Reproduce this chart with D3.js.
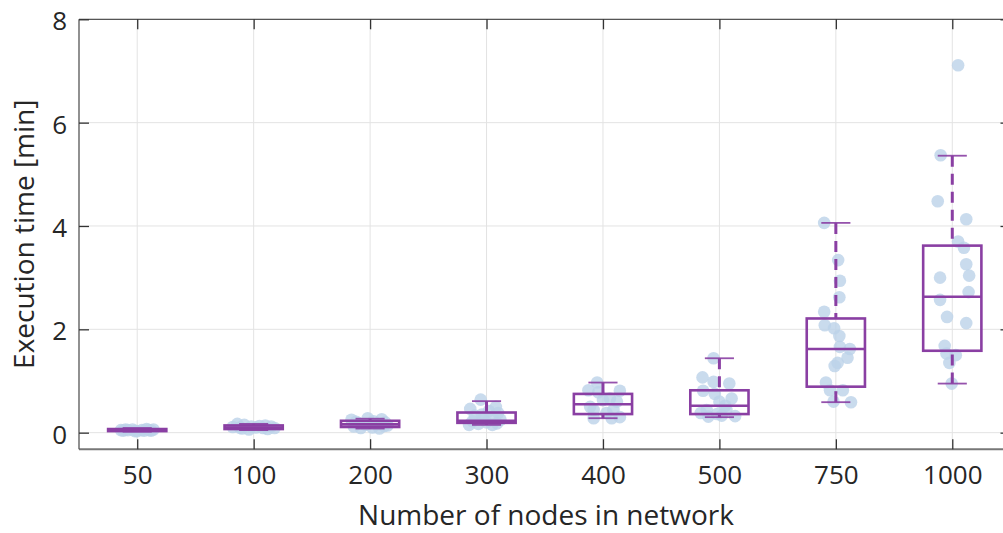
<!DOCTYPE html>
<html>
<head>
<meta charset="utf-8">
<script src="https://cdn.jsdelivr.net/npm/d3@7"></script>
<style>
  html, body { margin: 0; padding: 0; background: #fff; overflow: hidden; }
  svg { display: block; font-family: "Open Sans", "Noto Sans", sans-serif; }
</style>
</head>
<body>
<svg id="chart" width="1003" height="533"></svg>
<script>
// ---------------- data ----------------
const categories = ["50", "100", "200", "300", "400", "500", "750", "1000"];
const yTicks = [0, 2, 4, 6, 8];

// box statistics (minutes)
const whiskerLow  = [0.02, 0.05, 0.08, 0.15, 0.28, 0.30, 0.59, 0.95];
const q1          = [0.03, 0.07, 0.11, 0.19, 0.36, 0.36, 0.89, 1.585];
const medians     = [0.05, 0.10, 0.16, 0.23, 0.55, 0.52, 1.62, 2.63];
const q3          = [0.07, 0.14, 0.23, 0.39, 0.75, 0.82, 2.21, 3.62];
const whiskerHigh = [0.09, 0.17, 0.27, 0.61, 0.97, 1.44, 4.06, 5.36];

// individual runs (minutes) and their horizontal jitter (in category units)
const runs50   = [0.04, 0.05, 0.06, 0.03, 0.05, 0.07, 0.04, 0.06, 0.05, 0.03, 0.04, 0.06, 0.05];
const jit50    = [-0.12, -0.08, -0.04, 0.00, 0.04, 0.08, 0.12, -0.10, 0.10, -0.02, 0.06, 0.14, -0.14];
const runs100  = [0.17, 0.15, 0.14, 0.12, 0.11, 0.10, 0.09, 0.08, 0.07, 0.06, 0.12, 0.09, 0.10, 0.13];
const jit100   = [-0.14, -0.08, 0.10, 0.15, -0.18, 0.02, 0.08, -0.10, 0.12, -0.04, -0.02, 0.18, -0.12, 0.05];
const runs200  = [0.28, 0.26, 0.25, 0.22, 0.20, 0.18, 0.16, 0.15, 0.13, 0.12, 0.10, 0.09, 0.08, 0.21, 0.14];
const jit200   = [-0.02, 0.10, -0.16, 0.03, 0.13, -0.10, 0.06, -0.04, 0.12, -0.14, 0.02, -0.08, 0.08, -0.12, 0.15];
const runs300  = [0.64, 0.50, 0.46, 0.42, 0.38, 0.33, 0.30, 0.27, 0.25, 0.22, 0.20, 0.18, 0.17, 0.15, 0.15, 0.35];
const jit300   = [-0.05, 0.08, -0.14, 0.02, 0.10, -0.10, 0.05, -0.03, 0.12, -0.12, 0.00, 0.09, -0.07, -0.15, 0.05, -0.04];
const runs400  = [0.97, 0.82, 0.81, 0.78, 0.66, 0.63, 0.60, 0.50, 0.44, 0.44, 0.38, 0.28, 0.28, 0.30];
const jit400   = [-0.05, -0.125, 0.145, -0.04, 0.06, 0.00, 0.12, -0.11, -0.08, 0.09, 0.03, -0.08, 0.075, 0.145];
const runs500  = [1.44, 1.07, 0.985, 0.95, 0.81, 0.75, 0.66, 0.60, 0.52, 0.44, 0.44, 0.36, 0.32, 0.31, 0.33, 0.38];
const jit500   = [-0.05, -0.145, -0.05, 0.085, -0.14, -0.04, 0.105, 0.00, 0.05, -0.11, 0.06, -0.02, 0.135, -0.095, 0.02, -0.16];
const runs750  = [4.06, 3.34, 2.94, 2.62, 2.34, 2.08, 2.02, 1.87, 1.66, 1.62, 1.45, 1.35, 1.29, 0.97, 0.82, 0.82, 0.60, 0.59];
const jit750   = [-0.10, 0.02, 0.035, 0.03, -0.10, -0.095, -0.015, 0.03, 0.035, 0.12, 0.10, 0.015, -0.01, -0.085, -0.05, 0.06, -0.02, 0.13];
const runs1000 = [7.11, 5.37, 4.48, 4.13, 3.70, 3.58, 3.26, 3.00, 3.04, 2.72, 2.57, 2.24, 2.12, 1.68, 1.53, 1.50, 1.35, 0.95];
const jit1000  = [0.05, -0.10, -0.125, 0.12, 0.05, 0.10, 0.12, -0.105, 0.145, 0.14, -0.105, -0.045, 0.12, -0.065, -0.05, 0.03, -0.025, -0.005];

const runs = [runs50, runs100, runs200, runs300, runs400, runs500, runs750, runs1000];
const jitter = [jit50, jit100, jit200, jit300, jit400, jit500, jit750, jit1000];

const xLabel = "Number of nodes in network";
const yLabel = "Execution time [min]";

// ---------------- layout ----------------
const svg = d3.select("#chart");
const plot = { left: 79, right: 1010.5, top: 19.3, bottom: 449.2 };
const purple = "#8a3fa3";
const dotColor = "#bcd2e8";
const textColor = "#262626";
const axisColor = "#555555";

const x = d3.scaleLinear().domain([0.5, categories.length + 0.5]).range([plot.left, plot.right]);
const y = d3.scaleLinear().domain([-0.32, 8]).range([plot.bottom, plot.top]);

// grid
const grid = svg.append("g");
grid.selectAll("line.gx").data(categories).join("line")
  .attr("x1", (d, i) => x(i + 1)).attr("x2", (d, i) => x(i + 1))
  .attr("y1", plot.top).attr("y2", plot.bottom)
  .attr("stroke", "#e3e3e3").attr("stroke-width", 1);
grid.selectAll("line.gy").data(yTicks).join("line")
  .attr("x1", plot.left).attr("x2", plot.right)
  .attr("y1", d => y(d)).attr("y2", d => y(d))
  .attr("stroke", "#e3e3e3").attr("stroke-width", 1);

// points
const pts = [];
runs.forEach((arr, i) => arr.forEach((v, j) => pts.push({ c: i + 1 + jitter[i][j], v })));
svg.append("g").selectAll("circle").data(pts).join("circle")
  .attr("cx", d => x(d.c)).attr("cy", d => y(d.v)).attr("r", 6.3)
  .attr("fill", dotColor).attr("fill-opacity", 0.8);

// boxes
const boxes = categories.map((c, i) => ({
  i: i + 1, lo: whiskerLow[i], q1: q1[i], med: medians[i], q3: q3[i], hi: whiskerHigh[i]
}));
const bg = svg.append("g");
const bw = 0.25, cw = 0.125;
boxes.forEach(b => {
  const g = bg.append("g");
  g.append("line").attr("x1", x(b.i)).attr("x2", x(b.i))
    .attr("y1", y(b.hi)).attr("y2", y(b.q3))
    .attr("stroke", purple).attr("stroke-width", 3).attr("stroke-dasharray", "11,7");
  g.append("line").attr("x1", x(b.i)).attr("x2", x(b.i))
    .attr("y1", y(b.lo)).attr("y2", y(b.q1))
    .attr("stroke", purple).attr("stroke-width", 3).attr("stroke-dasharray", "11,7");
  [b.hi, b.lo].forEach(v => {
    g.append("line").attr("x1", x(b.i - cw)).attr("x2", x(b.i + cw))
      .attr("y1", y(v)).attr("y2", y(v))
      .attr("stroke", purple).attr("stroke-width", 1.8).attr("stroke-opacity", 0.9);
  });
  g.append("rect").attr("x", x(b.i - bw)).attr("width", x(b.i + bw) - x(b.i - bw))
    .attr("y", y(b.q3)).attr("height", Math.max(0.5, y(b.q1) - y(b.q3)))
    .attr("fill", "none").attr("stroke", purple).attr("stroke-width", 2.6);
  g.append("line").attr("x1", x(b.i - bw)).attr("x2", x(b.i + bw))
    .attr("y1", y(b.med)).attr("y2", y(b.med))
    .attr("stroke", purple).attr("stroke-width", 2.6);
});

// axes frame (right edge lies just outside the picture)
const frame = svg.append("g");
frame.append("line").attr("x1", plot.left).attr("x2", 1003).attr("y1", plot.bottom).attr("y2", plot.bottom)
  .attr("stroke", "#777").attr("stroke-width", 2);
frame.append("line").attr("x1", plot.left).attr("x2", 1003).attr("y1", plot.top).attr("y2", plot.top)
  .attr("stroke", axisColor).attr("stroke-width", 1.3);
frame.append("line").attr("x1", plot.left).attr("x2", plot.left).attr("y1", plot.top).attr("y2", plot.bottom)
  .attr("stroke", axisColor).attr("stroke-width", 1.3);

// x axis with inward ticks
const xAxis = d3.axisBottom(x).tickValues(d3.range(1, categories.length + 1))
  .tickFormat(d => categories[d - 1]).tickSizeInner(-10).tickSizeOuter(0).tickPadding(16);
const gx = svg.append("g").attr("transform", `translate(0,${plot.bottom})`).call(xAxis);
gx.select(".domain").remove();
gx.selectAll(".tick line").attr("stroke", "#333").attr("stroke-width", 1.3);
gx.selectAll("text").attr("fill", textColor).attr("font-size", 26).attr("font-family", "Open Sans");

const xTop = d3.axisTop(x).tickValues(d3.range(1, categories.length + 1)).tickFormat("").tickSizeInner(-10).tickSizeOuter(0);
const gxt = svg.append("g").attr("transform", `translate(0,${plot.top})`).call(xTop);
gxt.select(".domain").remove();
gxt.selectAll(".tick line").attr("stroke", "#333").attr("stroke-width", 1.3);

// y axis with inward ticks
const yAxis = d3.axisLeft(y).tickValues(yTicks).tickFormat(d3.format("d"))
  .tickSizeInner(-10).tickSizeOuter(0).tickPadding(12);
const gy = svg.append("g").attr("transform", `translate(${plot.left},0)`).call(yAxis);
gy.select(".domain").remove();
gy.selectAll(".tick line").attr("stroke", "#333").attr("stroke-width", 1.3);
gy.selectAll("text").attr("fill", textColor).attr("font-size", 26).attr("font-family", "Open Sans").attr("dy", "0.4em");

const yRight = d3.axisRight(y).tickValues(yTicks).tickFormat("").tickSizeInner(-10).tickSizeOuter(0);
const gyr = svg.append("g").attr("transform", `translate(${plot.right},0)`).call(yRight);
gyr.select(".domain").remove();
gyr.selectAll(".tick line").attr("stroke", "#333").attr("stroke-width", 1.3);

// axis labels
svg.append("text").attr("x", (plot.left + 1013) / 2).attr("y", 525)
  .attr("text-anchor", "middle").attr("fill", textColor).attr("font-size", 28)
  .attr("font-family", "Open Sans").text(xLabel);
svg.append("text").attr("transform", `translate(34,${(plot.top + plot.bottom) / 2}) rotate(-90)`)
  .attr("text-anchor", "middle").attr("fill", textColor).attr("font-size", 28)
  .attr("font-family", "Open Sans").text(yLabel);
</script>
</body>
</html>
